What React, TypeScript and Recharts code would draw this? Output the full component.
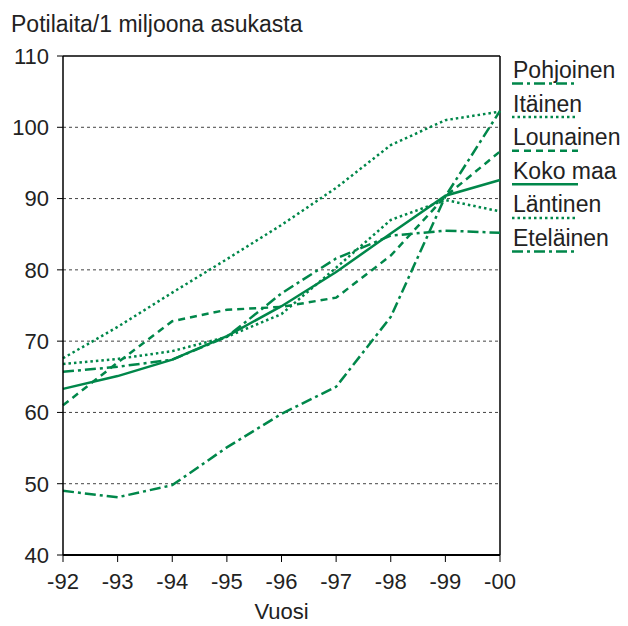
import { Line, LineChart, ReferenceLine, XAxis, YAxis } from "recharts";

const years = ["-92", "-93", "-94", "-95", "-96", "-97", "-98", "-99", "-00"];
const pohjoinen = [49, 48.1, 49.8, 55.1, 59.8, 63.6, 73.4, 90.3, 102.3];
const itainen = [67.6, 72, 76.8, 81.5, 86.3, 91.5, 97.5, 101, 102.2];
const lounainen = [61, 67, 72.8, 74.4, 74.8, 76.1, 82, 90.3, 96.6];
const kokoMaa = [63.3, 65.1, 67.4, 70.7, 74.9, 79.7, 85.1, 90.4, 92.6];
const lantinen = [66.8, 67.5, 68.6, 70.6, 73.8, 80.3, 87, 89.8, 88.2];
const etelainen = [65.7, 66.4, 67.4, 70.6, 76.7, 81.6, 84.8, 85.5, 85.2];
const yTicks = [40, 50, 60, 70, 80, 90, 100, 110];
const gridValues = [50, 60, 70, 80, 90, 100];

const data = years.map((year, i) => ({
  year,
  Pohjoinen: pohjoinen[i],
  "Itäinen": itainen[i],
  Lounainen: lounainen[i],
  "Koko maa": kokoMaa[i],
  "Läntinen": lantinen[i],
  "Eteläinen": etelainen[i]
}));

const GREEN = "#00874a";
const FONT = "'Liberation Sans', Arial, sans-serif";

const series = [
  { key: "Pohjoinen", dash: "11 4 3 4" },
  { key: "Itäinen", dash: "2.5 3" },
  { key: "Lounainen", dash: "7 5" },
  { key: "Koko maa", dash: undefined },
  { key: "Läntinen", dash: "2.5 3" },
  { key: "Eteläinen", dash: "11 4 3 4" }
];

// legend drawn next to the plot, outside recharts layout
function LegendBox() {
  return (
    <svg width={115} height={220}>
      {series.map((s, i) => (
        <g key={s.key} transform={`translate(0, ${i * 33.6})`}>
          <text x={1} y={20} fontSize={23} fontFamily={FONT} fill="#222">
            {s.key}
          </text>
          <line
            x1={0}
            x2={66}
            y1={25.5}
            y2={25.5}
            stroke={GREEN}
            strokeWidth={2.5}
            strokeDasharray={s.dash}
          />
        </g>
      ))}
    </svg>
  );
}

export default function App() {
  return (
    <div style={{ position: "absolute", left: 0, top: 0, width: 628, height: 626, background: "#fff" }}>
      <div
        style={{
          position: "absolute",
          left: 11,
          top: 11,
          fontFamily: FONT,
          fontSize: 23,
          color: "#222",
          whiteSpace: "nowrap"
        }}
      >
        Potilaita/1 miljoona asukasta
      </div>
      <div style={{ position: "absolute", left: 512, top: 58 }}>
        <LegendBox />
      </div>
      <LineChart
        width={628}
        height={626}
        data={data}
        margin={{ top: 56, right: 128, left: 3, bottom: 1 }}
      >
        {gridValues.map((v) => (
          <ReferenceLine key={v} y={v} stroke="#444" strokeWidth={1} strokeDasharray="3 3" />
        ))}
        <ReferenceLine y={110} stroke="#000" strokeWidth={1.5} />
        <ReferenceLine x="-00" stroke="#000" strokeWidth={1.5} />
        <XAxis
          dataKey="year"
          height={70}
          interval={0}
          stroke="#000"
          tickSize={7}
          tickMargin={11}
          axisLine={{ stroke: "#000", strokeWidth: 2 }}
          tick={{ fontSize: 22, fill: "#222", fontFamily: FONT }}
          label={{
            value: "Vuosi",
            position: "insideBottom",
            offset: 6,
            fontSize: 22,
            fill: "#222",
            fontFamily: FONT
          }}
        />
        <YAxis
          width={60}
          domain={[40, 110]}
          ticks={yTicks}
          interval={0}
          stroke="#000"
          tickSize={6}
          tickMargin={8}
          axisLine={{ stroke: "#000", strokeWidth: 1.5 }}
          tick={{ fontSize: 22, fill: "#222", fontFamily: FONT }}
        />
        {series.map((s) => (
          <Line
            key={s.key}
            type="linear"
            dataKey={s.key}
            stroke={GREEN}
            strokeWidth={2.5}
            strokeDasharray={s.dash}
            dot={false}
            isAnimationActive={false}
          />
        ))}
      </LineChart>
    </div>
  );
}
